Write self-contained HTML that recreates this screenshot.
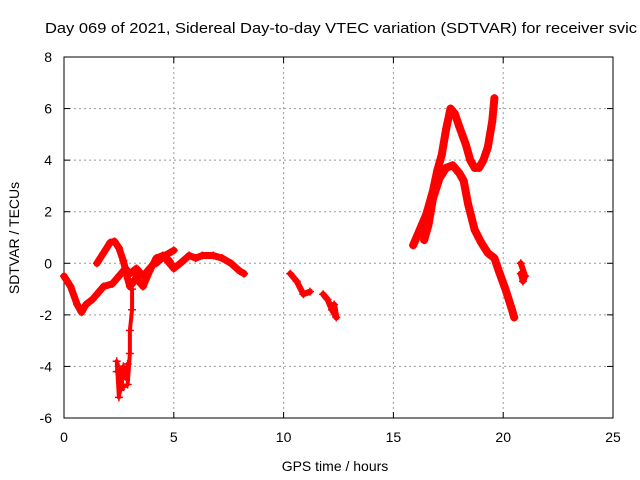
<!DOCTYPE html>
<html><head><meta charset="utf-8"><style>body{margin:0;background:#fff;overflow:hidden}svg{display:block}</style></head>
<body>
<svg id="c" width="640" height="480" font-family="Liberation Sans, sans-serif"></svg>
<script>
const xTicks=[0,5,10,15,20,25];
const yTicks=[-6,-4,-2,0,2,4,6,8];
const trackA=[[0,-0.5],[0.3,-0.9],[0.6,-1.6],[0.8,-1.9],[1.0,-1.6],[1.3,-1.4],[1.5,-1.2],[1.8,-0.9],[2.2,-0.8],[2.5,-0.5],[2.8,-0.2],[3.0,-0.4],[3.3,-0.2],[3.6,-0.5],[3.9,-0.2],[4.2,0.1],[4.5,0.3],[4.8,0.1],[5.0,-0.2]];
const trackB=[[1.5,0.0],[1.8,0.4],[2.1,0.8],[2.3,0.85],[2.5,0.6],[2.7,0.1],[2.9,-0.6],[3.0,-0.9],[3.2,-0.7],[3.4,-0.3]];
const trackC=[[3.3,-0.6],[3.6,-0.9],[3.9,-0.3],[4.2,0.2],[4.5,0.3],[4.8,0.0],[5.0,-0.2],[5.3,0.0],[5.7,0.3],[6.0,0.2],[6.3,0.3],[6.8,0.3],[7.2,0.2],[7.6,0.0],[8.0,-0.3],[8.2,-0.4]];
const trackC2=[[4.2,0.0],[4.6,0.3],[5.0,0.5]];
const trackDip=[[2.4,-3.8],[2.5,-5.2],[2.6,-4.5],[2.7,-4.8],[2.9,-4.7],[3.0,-3.5],[3.0,-2.6],[3.1,-1.8],[3.1,-1.0]];
const trackDip2=[[2.4,-4.2],[2.5,-4.0],[2.6,-4.9],[2.7,-4.0],[2.8,-4.4],[2.9,-3.9]];
const trackD=[[10.3,-0.4],[10.6,-0.7],[10.9,-1.2],[11.2,-1.1]];
const trackE=[[11.8,-1.2],[12.0,-1.4],[12.2,-1.8],[12.4,-2.1],[12.3,-1.6]];
const trackF=[[15.9,0.7],[16.2,1.3],[16.5,1.9],[16.8,2.8],[17.0,3.6],[17.2,4.2],[17.4,5.2],[17.6,6.0],[17.8,5.8],[18.0,5.3],[18.3,4.6],[18.5,4.0],[18.7,3.7],[18.9,3.7],[19.1,4.0],[19.3,4.5],[19.5,5.5],[19.6,6.4]];
const trackG=[[16.4,0.9],[16.6,1.5],[16.8,2.5],[17.1,3.3],[17.4,3.7],[17.7,3.8],[18.0,3.5],[18.2,3.2],[18.4,2.3],[18.7,1.3],[19.0,0.8],[19.3,0.4],[19.6,0.2],[19.8,-0.3],[20.1,-1.0],[20.4,-1.8],[20.5,-2.1]];
const trackH=[[20.8,-0.4],[20.9,-0.7],[21.0,-0.5],[20.8,0.0]];

const L=64,R=613,T=57,B=418;
const xs=v=>L+(v-0)/25*(R-L);
const ys=v=>B-(v+6)/14*(B-T);
const svg=document.getElementById('c');
const NS='http://www.w3.org/2000/svg';
function mk(t,a,p){const e=document.createElementNS(NS,t);for(const k in a)e.setAttribute(k,a[k]);(p||svg).appendChild(e);return e;}

const t=mk('text',{x:45,y:33,'font-size':15,textLength:592,lengthAdjust:'spacingAndGlyphs'});t.textContent='Day 069 of 2021, Sidereal Day-to-day VTEC variation (SDTVAR) for receiver svic';



xTicks.forEach(v=>{const x=xs(v);
 if(v>0&&v<25){const g=mk('line',{x1:x,x2:x,y1:T,y2:B,stroke:'#999','stroke-dasharray':'2,3'});}
 mk('line',{x1:x,x2:x,y1:B,y2:B-6,stroke:'#000'});mk('line',{x1:x,x2:x,y1:T,y2:T+6,stroke:'#000'});
 const l=mk('text',{x:x,y:B+24,'text-anchor':'middle','font-size':14});l.textContent=v;
 
 
});
yTicks.forEach(v=>{const y=ys(v);
 if(v>-6&&v<8){const g=mk('line',{x1:L,x2:R,y1:y,y2:y,stroke:'#999','stroke-dasharray':'2,3'});}
 mk('line',{x1:L,x2:L+6,y1:y,y2:y,stroke:'#000'});mk('line',{x1:R,x2:R-6,y1:y,y2:y,stroke:'#000'});
 const l=mk('text',{x:L-12,y:y+5,'text-anchor':'end','font-size':14});l.textContent=v;
 
 
});
const fr=mk('rect',{x:L,y:T,width:R-L,height:B-T,fill:'none',stroke:'#000'});


const xl=mk('text',{x:335,y:471,'text-anchor':'middle','font-size':14});xl.textContent='GPS time / hours';


const yl=mk('text',{x:19,y:238,'text-anchor':'middle','font-size':14,transform:'rotate(-90 19 238)'});yl.textContent='SDTVAR / TECUs';



function track(pts,name,w){
 const g=mk('g',{});
 
 
 if(w>0) mk('polyline',{points:pts.map(p=>xs(p[0])+','+ys(p[1])).join(' '),fill:'none',stroke:'#f00','stroke-width':w,'stroke-linejoin':'round','stroke-linecap':'round'},g);
 pts.forEach(p=>{const x=xs(p[0]),y=ys(p[1]);
  const m=mk('path',{d:`M${x-4},${y}H${x+4}M${x},${y-4}V${y+4}`,stroke:'#f00','stroke-width':1.5},g);
  
  
 });
}
track(trackA,'track-a',7);track(trackB,'track-b',7);track(trackC,'track-c',7);track(trackC2,'track-c2',7);
track(trackDip,'track-dip',4);track(trackDip2,'track-dip-2',4);track(trackD,'track-d',6);track(trackE,'track-e',6);
track(trackF,'track-f',8);track(trackG,'track-g',8);track(trackH,'track-h',6);
</script>
</body></html>
